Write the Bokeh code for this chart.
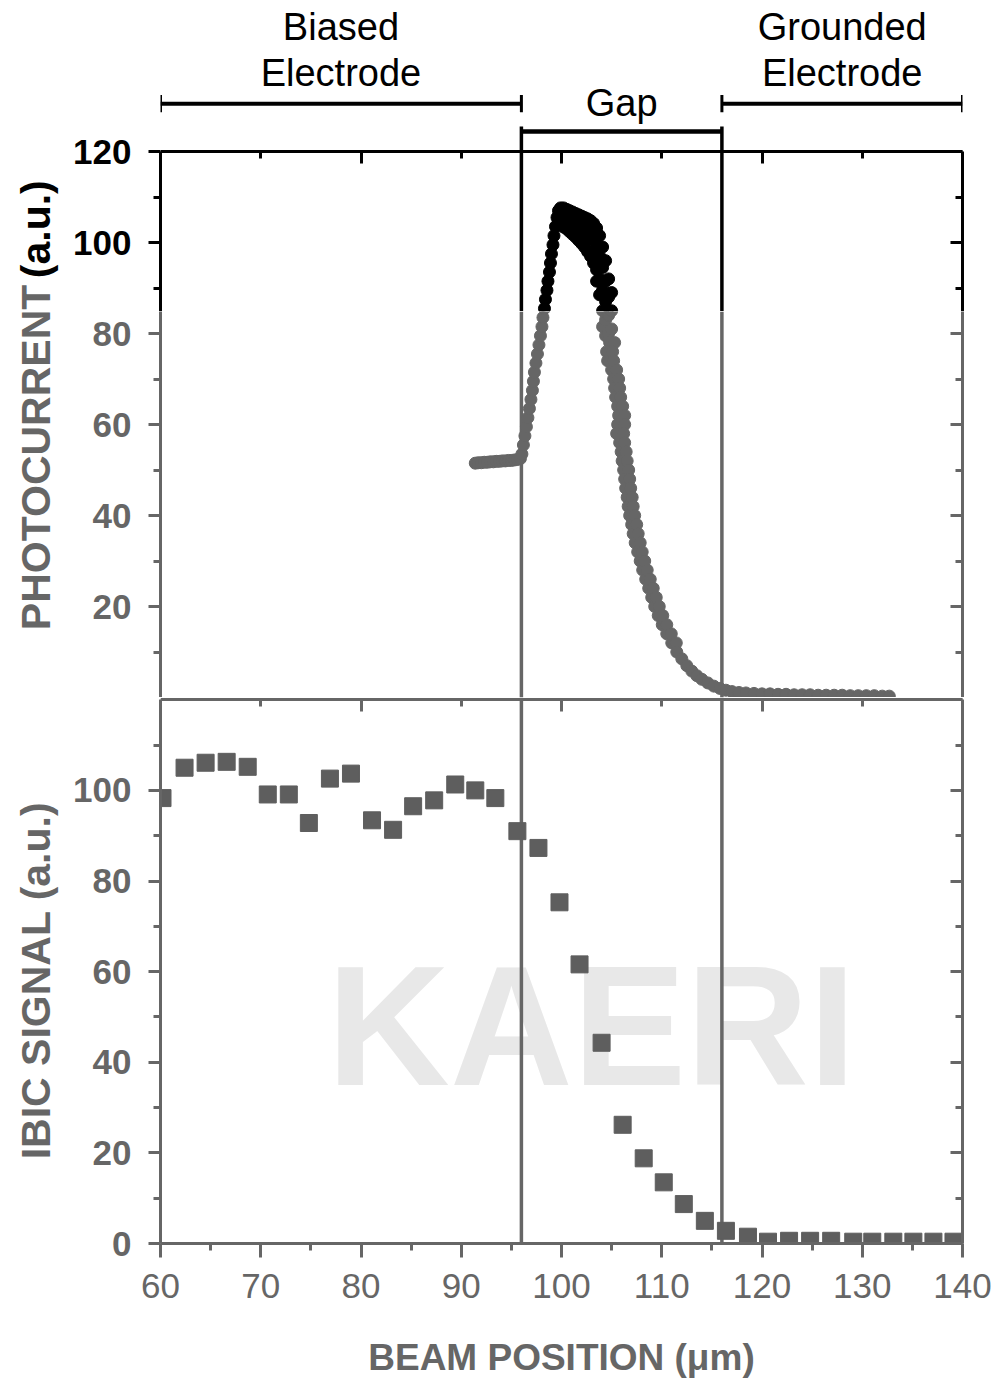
import math
from bokeh.plotting import figure
from bokeh.models import LinearAxis, FixedTicker, Range1d, CustomJSTickFormatter
from bokeh.layouts import column, row
from bokeh.embed import file_html
from bokeh.resources import INLINE
from bokeh.core.properties import value

# ---------------- data ----------------
# photocurrent scan: plateau, rising edge, peak band, falling band (two tracks), tail
pc_plateau_x = [91.4, 91.7, 92.0, 92.3, 92.6, 92.9, 93.2, 93.5, 93.8, 94.1, 94.4, 94.7,
                95.0, 95.3, 95.6, 95.9]
pc_plateau_y = [51.5, 51.6, 51.6, 51.7, 51.7, 51.8, 51.8, 51.9, 51.9, 52.0, 52.0, 52.1,
                52.1, 52.2, 52.3, 52.5]
pc_rise_x = [96.05, 96.2, 96.35, 96.5, 96.65, 96.8, 96.95, 97.1, 97.2, 97.3, 97.45, 97.6,
             97.75, 97.9, 98.05, 98.15, 98.3, 98.4, 98.55, 98.65, 98.8, 98.9, 99.0, 99.15,
             99.25, 99.4, 99.55, 99.7]
pc_rise_y = [53.5, 55.5, 57.5, 59.5, 61.5, 63.5, 65.5, 67.5, 69.5, 71.5, 73.5, 75.5,
             77.5, 79.5, 81.5, 83.5, 85.5, 87.5, 89.5, 91.5, 93.5, 95.5, 97.5, 99.5,
             101.5, 103.5, 105.5, 107.0]
pc_peak_x = [99.9, 99.9, 99.9, 100.2, 100.2, 100.2, 100.5, 100.5, 100.5, 100.8, 100.8, 100.8,
             101.1, 101.1, 101.1, 101.4, 101.4, 101.4, 101.7, 101.7, 101.7, 102.0, 102.0, 102.0,
             102.3, 102.3, 102.3, 102.6, 102.6, 102.6, 102.9, 102.9, 102.9, 103.2, 103.2, 103.2,
             103.5, 103.5, 103.5, 103.5, 103.8, 103.8, 103.8, 103.8,
             104.1, 104.1, 104.1, 104.1, 104.1, 104.4, 104.4, 104.4, 104.4, 104.4,
             104.7, 104.7, 104.7, 104.7, 105.0, 105.0, 105.0, 105.0]
pc_peak_y = [107.6, 105.8, 104.0, 107.6, 105.5, 103.4, 107.3, 105.2, 103.0, 107.0, 104.8, 102.4,
             106.7, 104.4, 101.8, 106.4, 104.0, 101.2, 106.1, 103.6, 100.5, 105.8, 103.1, 99.8,
             105.5, 102.6, 99.0, 105.2, 102.0, 98.0, 104.8, 101.3, 97.0, 104.2, 100.5, 95.5,
             103.2, 99.0, 94.0, 91.5, 101.5, 97.0, 92.0, 88.5,
             99.0, 94.5, 89.5, 85.0, 81.5, 96.0, 91.5, 87.0, 83.0, 79.5,
             92.0, 88.0, 84.0, 80.0, 89.0, 85.0, 81.0, 77.5]
pc_fall_y = [78, 76, 74, 72, 70, 68, 66, 64, 62, 60, 58, 56, 54, 52, 50, 48, 46, 44, 42, 40,
             38, 36, 34, 32, 30, 28, 26, 24, 22, 20, 18, 16, 14, 12]
pc_fall_x1 = [104.8, 104.5, 104.6, 105.0, 105.2, 105.3, 105.4, 105.6, 105.7, 105.6, 105.5,
              105.8, 105.95, 106.05, 106.2, 106.3, 106.4, 106.55, 106.65, 106.8, 107.0,
              107.15, 107.35, 107.6, 107.85, 108.1, 108.4, 108.7, 109.0, 109.3, 109.65,
              110.05, 110.5, 111.0]
pc_fall_x2 = [105.3, 105.1, 105.2, 105.5, 105.7, 105.8, 105.9, 106.1, 106.3, 106.3, 106.2,
              106.3, 106.45, 106.55, 106.7, 106.8, 106.9, 107.05, 107.15, 107.3, 107.5,
              107.65, 107.85, 108.05, 108.3, 108.55, 108.85, 109.15, 109.45, 109.75, 110.1,
              110.5, 110.95, 111.45]
pc_toe_x = [111.5, 112.0, 112.5, 113.0, 113.5, 114.0, 114.6, 115.2, 115.8, 116.4, 117.0]
pc_toe_y = [10.0, 8.5, 7.0, 5.8, 4.8, 4.0, 3.2, 2.5, 2.0, 1.6, 1.3]
pc_tail_x = [117.7, 118.4, 119.2, 120.0, 120.8, 121.6, 122.4, 123.2, 124.0, 124.8, 125.6,
             126.4, 127.2, 128.0, 128.8, 129.6, 130.4, 131.2, 132.0, 132.7]
pc_tail_y = [1.1, 1.0, 0.9, 0.8, 0.8, 0.7, 0.7, 0.6, 0.6, 0.6, 0.5, 0.5, 0.5, 0.5, 0.4,
             0.4, 0.4, 0.4, 0.3, 0.3]

pc_x = (pc_plateau_x + pc_rise_x + pc_peak_x + pc_fall_x1 + pc_fall_x2 + pc_toe_x + pc_tail_x)
pc_y = (pc_plateau_y + pc_rise_y + pc_peak_y + pc_fall_y + pc_fall_y + pc_toe_y + pc_tail_y)

ibic_x = [60.2, 62.4, 64.5, 66.6, 68.7, 70.7, 72.8, 74.8, 76.9, 79.0, 81.1, 83.2, 85.2,
          87.3, 89.4, 91.4, 93.4, 95.6, 97.7, 99.8, 101.8, 104.0, 106.1, 108.2, 110.2,
          112.2, 114.3, 116.4, 118.6, 120.6, 122.7, 124.8, 126.9, 129.1, 131.0, 133.1,
          135.1, 137.1, 139.1]
ibic_y = [98.3, 105.0, 106.1, 106.3, 105.2, 99.1, 99.1, 92.8, 102.6, 103.7, 93.4, 91.3, 96.5,
          97.8, 101.3, 100.0, 98.3, 91.0, 87.3, 75.3, 61.6, 44.3, 26.2, 18.8, 13.5,
          8.7, 5.0, 2.8, 1.5, 0.4, 0.6, 0.6, 0.6, 0.4, 0.4, 0.4,
          0.4, 0.4, 0.4]

electrode_edges = [60, 96, 116, 140]
region_lines = [["Biased", "Electrode"], ["Gap"], ["Grounded", "Electrode"]]
x_ticks = [60, 70, 80, 90, 100, 110, 120, 130, 140]
x_minor = [65, 75, 85, 95, 105, 115, 125, 135]
pc_ticks = [20, 40, 60, 80, 100, 120]
pc_minor = [10, 30, 50, 70, 90, 110]
ibic_ticks = [0, 20, 40, 60, 80, 100]
ibic_minor = [10, 30, 50, 70, 90, 110]
pc_title = ["PHOTOCURRENT", "(a.u.)"]
ibic_title = "IBIC SIGNAL (a.u.)"
x_title = "BEAM POSITION (\u03bcm)"

FONT = "Liberation Sans"
GRAY = "#666666"
BLACK = "#000000"
SQ = "#5e5e5e"
SCALE = 4.55        # px per unit in the photocurrent panel
B_H = 386           # height of the grey (lower) part of the photocurrent panel
A_H = 697 - B_H     # height of the black (upper) part incl. header
SPLIT = B_H / SCALE  # level where the scan turns from grey to black
STRIP = 70          # width of the strip carrying the y titles
MAIN_W = 999 - STRIP


def blank():
    return CustomJSTickFormatter(code="return ''")


def style(ax, color, inward=False, lw=3, label_size="35px", label_bold=True):
    ax.axis_line_color = color
    ax.axis_line_width = lw
    ax.major_tick_line_color = color
    ax.minor_tick_line_color = color
    ax.major_tick_line_width = lw
    ax.minor_tick_line_width = lw
    if inward:
        ax.major_tick_in, ax.major_tick_out = 12, 0
        ax.minor_tick_in, ax.minor_tick_out = 7, 0
        ax.major_label_standoff = 0
    else:
        ax.major_tick_in, ax.major_tick_out = 0, 12
        ax.minor_tick_in, ax.minor_tick_out = 0, 7
        ax.major_label_standoff = 17
    ax.major_label_text_color = color
    ax.major_label_text_font = FONT
    ax.major_label_text_font_size = label_size
    ax.major_label_text_font_style = "bold" if label_bold else "normal"
    ax.axis_label_text_color = color
    ax.axis_label_text_font = FONT
    ax.axis_label_text_font_style = "bold"


def make_fig(height, y_range, bottom=0, width=MAIN_W, left=158 - STRIP, right=37, xr=None):
    f = figure(width=width, height=height, x_range=xr if xr is not None else x_range,
               y_range=y_range, x_axis_location=None, y_axis_location=None,
               toolbar_location=None, output_backend="svg", min_border_left=left,
               min_border_right=right, min_border_top=0, min_border_bottom=bottom,
               outline_line_color=None, background_fill_color="white",
               border_fill_color="white")
    f.grid.visible = False
    return f


x_range = Range1d(60, 140)
inner = electrode_edges[1:3]
e = electrode_edges

# ---------------- upper part of photocurrent panel (black) + header ----------------
figA = make_fig(A_H, Range1d(SPLIT, SPLIT + A_H / SCALE))

hi_t = [t for t in pc_ticks if t > SPLIT]
hi_m = [t for t in pc_minor if t > SPLIT]
lo_t = [t for t in pc_ticks if t < SPLIT]
lo_m = [t for t in pc_minor if t < SPLIT]

axA = LinearAxis(bounds=(SPLIT, 120), ticker=FixedTicker(ticks=hi_t, minor_ticks=hi_m))
style(axA, BLACK)
figA.add_layout(axA, "left")

axA_r = LinearAxis(bounds=(SPLIT, 120), formatter=blank(),
                   ticker=FixedTicker(ticks=hi_t, minor_ticks=hi_m))
style(axA_r, BLACK, inward=True)
figA.add_layout(axA_r, "right")

axA_t = LinearAxis(fixed_location=120, formatter=blank(),
                   ticker=FixedTicker(ticks=[60, 80, 100, 120, 140], minor_ticks=[70, 90, 110, 130]))
style(axA_t, BLACK, inward=True)
figA.add_layout(axA_t, "above")

figA.segment(x0=inner, x1=inner, y0=[SPLIT] * 2, y1=[125.5] * 2,
             line_color=BLACK, line_width=3.5)
# header brackets
figA.segment(x0=[e[0], e[2]], x1=[e[1], e[3]], y0=[130.5, 130.5], y1=[130.5, 130.5],
             line_color=BLACK, line_width=4)
figA.segment(x0=e, x1=e, y0=[128.6] * 4, y1=[132.4] * 4, line_color=BLACK, line_width=3)
figA.segment(x0=[e[1]], x1=[e[2]], y0=[124.4], y1=[124.4], line_color=BLACK, line_width=4.5)

mids = [(e[i] + e[i + 1]) / 2 for i in range(3)]
hx, hy, ht = [], [], []
for m, lines in zip(mids, region_lines):
    if len(lines) == 2:
        hx += [m, m]
        hy += [147.3, 137.2]
        ht += lines
    else:
        hx.append(m)
        hy.append(130.6)
        ht.append(lines[0])
figA.text(x=hx, y=hy, text=ht, text_font=value(FONT), text_font_size="38px",
          text_color=BLACK, text_align="center", text_baseline="alphabetic")

figA.scatter(x=pc_x, y=pc_y, size=12, marker="circle", fill_color=BLACK, line_color=BLACK)

# ---------------- lower part of photocurrent panel (grey) ----------------
figB = make_fig(B_H, Range1d(0, SPLIT))

axB = LinearAxis(bounds=(0, SPLIT), ticker=FixedTicker(ticks=lo_t, minor_ticks=lo_m))
style(axB, GRAY)
figB.add_layout(axB, "left")

axB_r = LinearAxis(bounds=(0, SPLIT), formatter=blank(),
                   ticker=FixedTicker(ticks=lo_t, minor_ticks=lo_m))
style(axB_r, GRAY, inward=True)
figB.add_layout(axB_r, "right")

figB.segment(x0=inner, x1=inner, y0=[0, 0], y1=[SPLIT] * 2, line_color=GRAY, line_width=3.5)
figB.scatter(x=pc_x, y=pc_y, size=12, marker="circle", fill_color=GRAY, line_color=GRAY)

# ---------------- IBIC panel ----------------
C_SCALE = 550 / 120.5
figC = make_fig(683, Range1d(0, 120.5), bottom=133)

wm = figC.text(x=[103], y=[48], text=["KAERI"], text_font=value(FONT), text_font_size="170px",
               text_font_style="bold", text_color="#e8e8e8", text_align="center",
               text_baseline="middle")
wm.level = "underlay"

axC = LinearAxis(bounds=(0, 120), ticker=FixedTicker(ticks=ibic_ticks, minor_ticks=ibic_minor))
style(axC, GRAY)
figC.add_layout(axC, "left")

axC_b = LinearAxis(axis_label=x_title, ticker=FixedTicker(ticks=x_ticks, minor_ticks=x_minor))
style(axC_b, GRAY, label_size="35px", label_bold=False)
axC_b.major_tick_out = 14
axC_b.major_label_standoff = 16
axC_b.axis_label_standoff = 36
axC_b.axis_label_text_font_size = "37px"
figC.add_layout(axC_b, "below")

axC_t = LinearAxis(fixed_location=120, formatter=blank(),
                   ticker=FixedTicker(ticks=[60, 80, 100, 120, 140], minor_ticks=[70, 90, 110, 130]))
style(axC_t, GRAY, inward=True)
figC.add_layout(axC_t, "above")

axC_r = LinearAxis(bounds=(0, 120), formatter=blank(),
                   ticker=FixedTicker(ticks=[0, 20, 40, 60, 80, 100, 120], minor_ticks=ibic_minor))
style(axC_r, GRAY, inward=True)
figC.add_layout(axC_r, "right")

figC.segment(x0=inner, x1=inner, y0=[0, 0], y1=[120.5, 120.5], line_color=GRAY, line_width=3.5)
figC.scatter(x=ibic_x, y=ibic_y, size=17, marker="square", fill_color=SQ, line_color=SQ)

# ---------------- left strip with the y titles ----------------
strip_x = Range1d(0, STRIP)
sT = make_fig(697, Range1d(0, 697 / SCALE), width=STRIP, left=0, right=0, xr=strip_x)
title_size = 41
gap_px = 352        # advance of "PHOTOCURRENT " at this size
sT.text(x=[STRIP / 2], y=[14.8], text=[pc_title[0]], angle=math.pi / 2,
        text_font=value(FONT), text_font_size=f"{title_size}px", text_font_style="bold",
        text_color=GRAY, text_align="left", text_baseline="middle")
sT.text(x=[STRIP / 2], y=[14.8 + gap_px / SCALE], text=[pc_title[1]], angle=math.pi / 2,
        text_font=value(FONT), text_font_size=f"{title_size}px", text_font_style="bold",
        text_color=BLACK, text_align="left", text_baseline="middle")

sB = make_fig(683, Range1d(-133 / C_SCALE, 120.5), width=STRIP, left=0, right=0, xr=strip_x)
sB.text(x=[STRIP / 2], y=[58.5], text=[ibic_title], angle=math.pi / 2,
        text_font=value(FONT), text_font_size=f"{title_size}px", text_font_style="bold",
        text_color=GRAY, text_align="center", text_baseline="middle")

layout = row(column(sT, sB, spacing=0), column(figA, figB, figC, spacing=0), spacing=0)
open("out.html", "w").write(file_html(layout, INLINE))
